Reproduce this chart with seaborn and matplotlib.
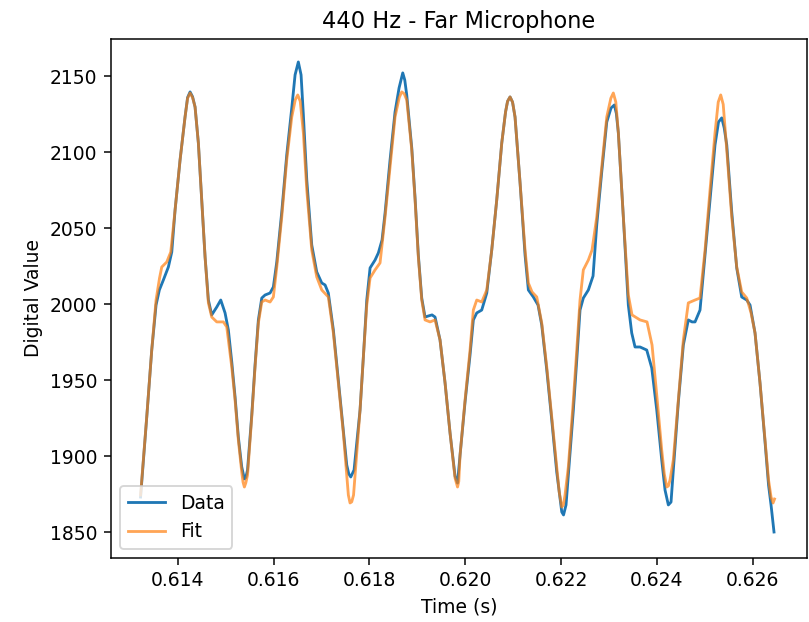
import matplotlib
matplotlib.use("Agg")
import matplotlib.pyplot as plt
import seaborn as sns
import pandas as pd

# Measured samples (time in s, digital value)
data_time = [
    0.613224, 0.613353, 0.613457, 0.613547, 0.613616, 0.613700, 0.613804, 0.613875,
    0.613944, 0.614048, 0.614152, 0.614205, 0.614257, 0.614309, 0.614361, 0.614430,
    0.614501, 0.614570, 0.614639, 0.614709, 0.614814, 0.614897, 0.614987, 0.615056,
    0.615127, 0.615196, 0.615264, 0.615335, 0.615390, 0.615420, 0.615456, 0.615544,
    0.615613, 0.615682, 0.615753, 0.615822, 0.615926, 0.615995, 0.616066, 0.616170,
    0.616274, 0.616379, 0.616448, 0.616516, 0.616573, 0.616621, 0.616692, 0.616796,
    0.616900, 0.617005, 0.617074, 0.617142, 0.617247, 0.617351, 0.617455, 0.617526,
    0.617568, 0.617610, 0.617679, 0.617741, 0.617804, 0.617873, 0.617944, 0.618013,
    0.618117, 0.618186, 0.618263, 0.618326, 0.618430, 0.618534, 0.618618, 0.618695,
    0.618737, 0.618778, 0.618883, 0.618952, 0.619020, 0.619091, 0.619160, 0.619229,
    0.619306, 0.619369, 0.619473, 0.619578, 0.619682, 0.619786, 0.619838, 0.619891,
    0.619995, 0.620099, 0.620168, 0.620239, 0.620343, 0.620448, 0.620552, 0.620656,
    0.620761, 0.620840, 0.620882, 0.620934, 0.620986, 0.621038, 0.621143, 0.621247,
    0.621316, 0.621420, 0.621518, 0.621595, 0.621700, 0.621804, 0.621908, 0.622013,
    0.622050, 0.622102, 0.622150, 0.622255, 0.622326, 0.622394, 0.622463, 0.622568,
    0.622666, 0.622743, 0.622847, 0.622952, 0.623041, 0.623110, 0.623152, 0.623194,
    0.623298, 0.623402, 0.623473, 0.623542, 0.623646, 0.623786, 0.623891, 0.623995,
    0.624099, 0.624168, 0.624237, 0.624293, 0.624341, 0.624446, 0.624550, 0.624654,
    0.624731, 0.624794, 0.624898, 0.625003, 0.625107, 0.625211, 0.625284, 0.625351,
    0.625403, 0.625456, 0.625560, 0.625664, 0.625768, 0.625873, 0.625942, 0.626046,
    0.626150, 0.626255, 0.626328, 0.626380, 0.626442,
]
data_value = [
    1873.2, 1925.9, 1969.9, 1999.5, 2009.4, 2016.0, 2024.5, 2034.4,
    2062.0, 2094.9, 2123.2, 2136.0, 2139.7, 2136.5, 2129.8, 2106.1,
    2068.6, 2031.1, 2002.8, 1993.0, 1998.2, 2002.8, 1994.3, 1983.1,
    1962.0, 1939.0, 1912.7, 1893.0, 1885.1, 1886.0, 1891.0, 1927.2,
    1960.1, 1989.7, 2004.1, 2006.1, 2007.4, 2011.4, 2027.8, 2060.7,
    2098.2, 2129.1, 2150.9, 2159.4, 2150.9, 2124.5, 2081.8, 2039.0,
    2021.3, 2014.0, 2012.7, 2007.4, 1983.1, 1950.2, 1917.3, 1894.3,
    1888.5, 1886.4, 1891.0, 1910.7, 1930.5, 1965.3, 2002.8, 2023.9,
    2029.1, 2033.8, 2042.3, 2060.1, 2094.9, 2126.5, 2142.3, 2152.2,
    2147.5, 2137.7, 2102.8, 2069.9, 2032.4, 2004.1, 1991.6, 1992.3,
    1993.0, 1991.6, 1976.5, 1948.2, 1915.3, 1887.0, 1882.4, 1900.9,
    1935.7, 1966.6, 1989.7, 1994.3, 1996.2, 2007.4, 2035.7, 2068.6,
    2106.1, 2126.5, 2133.5, 2136.4, 2133.0, 2123.2, 2079.8, 2032.4,
    2009.4, 2004.8, 1999.5, 1986.4, 1956.8, 1923.9, 1889.7, 1863.4,
    1861.4, 1868.0, 1887.7, 1930.5, 1963.4, 1996.2, 2004.1, 2009.4,
    2018.6, 2052.2, 2087.0, 2119.9, 2129.1, 2131.1, 2125.5, 2112.7,
    2057.4, 1999.5, 1981.1, 1971.9, 1971.9, 1969.9, 1958.1, 1930.5,
    1897.6, 1877.8, 1868.0, 1869.9, 1891.0, 1935.7, 1973.2, 1989.7,
    1988.4, 1988.4, 1996.2, 2032.4, 2068.6, 2104.8, 2119.9, 2122.6,
    2116.0, 2104.8, 2060.7, 2023.9, 2004.8, 2002.8, 1999.5, 1981.1,
    1948.2, 1909.4, 1881.1, 1868.0, 1850.2,
]

# Fitted curve (time in s, digital value)
fit_time = [
    0.613224, 0.613353, 0.613457, 0.613547, 0.613620, 0.613666, 0.613770, 0.613854,
    0.613944, 0.614048, 0.614152, 0.614205, 0.614257, 0.614309, 0.614361, 0.614430,
    0.614501, 0.614570, 0.614639, 0.614709, 0.614814, 0.614952, 0.615022, 0.615127,
    0.615196, 0.615264, 0.615335, 0.615362, 0.615390, 0.615420, 0.615456, 0.615544,
    0.615613, 0.615682, 0.615753, 0.615822, 0.615926, 0.615995, 0.616066, 0.616170,
    0.616274, 0.616379, 0.616452, 0.616504, 0.616556, 0.616621, 0.616692, 0.616796,
    0.616900, 0.617005, 0.617142, 0.617247, 0.617351, 0.617455, 0.617526, 0.617560,
    0.617595, 0.617630, 0.617668, 0.617741, 0.617804, 0.617873, 0.617944, 0.618013,
    0.618117, 0.618221, 0.618326, 0.618430, 0.618534, 0.618622, 0.618674, 0.618726,
    0.618778, 0.618883, 0.618952, 0.619020, 0.619091, 0.619160, 0.619265, 0.619369,
    0.619473, 0.619578, 0.619682, 0.619786, 0.619838, 0.619864, 0.619891, 0.619995,
    0.620099, 0.620168, 0.620239, 0.620343, 0.620448, 0.620552, 0.620656, 0.620761,
    0.620840, 0.620882, 0.620934, 0.620986, 0.621038, 0.621143, 0.621247, 0.621316,
    0.621393, 0.621491, 0.621595, 0.621700, 0.621804, 0.621908, 0.621960, 0.622013,
    0.622047, 0.622081, 0.622150, 0.622255, 0.622326, 0.622394, 0.622463, 0.622568,
    0.622645, 0.622743, 0.622847, 0.622952, 0.623037, 0.623089, 0.623141, 0.623194,
    0.623298, 0.623402, 0.623479, 0.623646, 0.623792, 0.623897, 0.623995, 0.624099,
    0.624152, 0.624204, 0.624238, 0.624272, 0.624341, 0.624446, 0.624550, 0.624654,
    0.624794, 0.624898, 0.625003, 0.625107, 0.625211, 0.625278, 0.625330, 0.625382,
    0.625456, 0.625560, 0.625664, 0.625768, 0.625873, 0.625963, 0.626046, 0.626150,
    0.626255, 0.626328, 0.626380, 0.626422, 0.626453,
]
fit_value = [
    1874.5, 1926.1, 1969.9, 2002.8, 2017.3, 2024.5, 2027.8, 2034.4,
    2062.0, 2094.9, 2123.2, 2135.5, 2139.0, 2136.0, 2129.8, 2106.1,
    2068.6, 2031.1, 2000.9, 1991.6, 1988.4, 1988.4, 1985.1, 1958.7,
    1937.0, 1910.7, 1889.7, 1883.0, 1879.8, 1882.5, 1887.7, 1925.9,
    1958.7, 1987.7, 2001.5, 2002.8, 2001.5, 2004.8, 2024.5, 2057.4,
    2094.9, 2123.2, 2134.5, 2137.7, 2133.5, 2112.7, 2075.2, 2035.7,
    2018.0, 2009.4, 2004.8, 1981.1, 1948.2, 1915.3, 1887.7, 1874.5,
    1869.3, 1870.0, 1874.5, 1904.1, 1930.5, 1965.3, 1999.5, 2017.3,
    2022.6, 2027.2, 2057.4, 2090.3, 2123.2, 2136.0, 2139.7, 2138.5,
    2134.4, 2101.5, 2068.6, 2031.1, 2002.8, 1989.7, 1988.4, 1989.7,
    1976.5, 1948.2, 1915.3, 1885.7, 1879.8, 1883.5, 1900.9, 1937.0,
    1969.9, 1996.2, 2002.8, 2001.5, 2009.4, 2035.7, 2068.6, 2106.1,
    2126.5, 2133.5, 2136.4, 2133.0, 2123.2, 2079.8, 2035.7, 2014.0,
    2008.1, 2004.8, 1987.7, 1958.7, 1925.9, 1893.0, 1876.5, 1866.6,
    1868.0, 1874.5, 1893.0, 1937.0, 1969.9, 2002.8, 2022.6, 2029.1,
    2035.7, 2057.4, 2090.3, 2123.2, 2135.5, 2139.0, 2133.0, 2112.7,
    2057.4, 2006.1, 1993.0, 1989.7, 1988.4, 1973.2, 1940.3, 1904.1,
    1888.5, 1879.8, 1880.5, 1884.4, 1897.6, 1937.0, 1976.5, 2000.9,
    2002.8, 2004.1, 2035.7, 2075.2, 2112.7, 2133.0, 2137.7, 2131.5,
    2101.5, 2057.4, 2024.5, 2008.1, 2004.1, 1994.3, 1981.1, 1948.2,
    1910.7, 1884.4, 1873.2, 1869.3, 1871.9,
]

title = "440 Hz - Far Microphone"
x_label = "Time (s)"
y_label = "Digital Value"
x_ticks = [0.614, 0.616, 0.618, 0.620, 0.622, 0.624, 0.626]
y_ticks = [1850, 1900, 1950, 2000, 2050, 2100, 2150]

dpi = 135
fig = plt.figure(figsize=(809 / dpi, 622 / dpi), dpi=dpi)
ax = fig.add_axes([0.1368, 0.1029, 0.8607, 0.8344])

df_data = pd.DataFrame({"t": data_time, "v": data_value})
df_fit = pd.DataFrame({"t": fit_time, "v": fit_value})

sns.lineplot(data=df_data, x="t", y="v", ax=ax, color="#1f77b4", label="Data",
             estimator=None, sort=False, linewidth=1.5)
sns.lineplot(data=df_fit, x="t", y="v", ax=ax, color="#ff7f0e", alpha=0.7, label="Fit",
             estimator=None, sort=False, linewidth=1.5)

ax.set_xlim(0.61260, 0.62713)
ax.set_ylim(1833.1, 2174.5)
ax.set_xticks(x_ticks)
ax.set_xticklabels([f"{v:.3f}" for v in x_ticks])
ax.set_yticks(y_ticks)
ax.set_title(title)
ax.set_xlabel(x_label)
ax.set_ylabel(y_label)
ax.legend(loc="lower left")

fig.savefig("out.png", dpi=dpi)
